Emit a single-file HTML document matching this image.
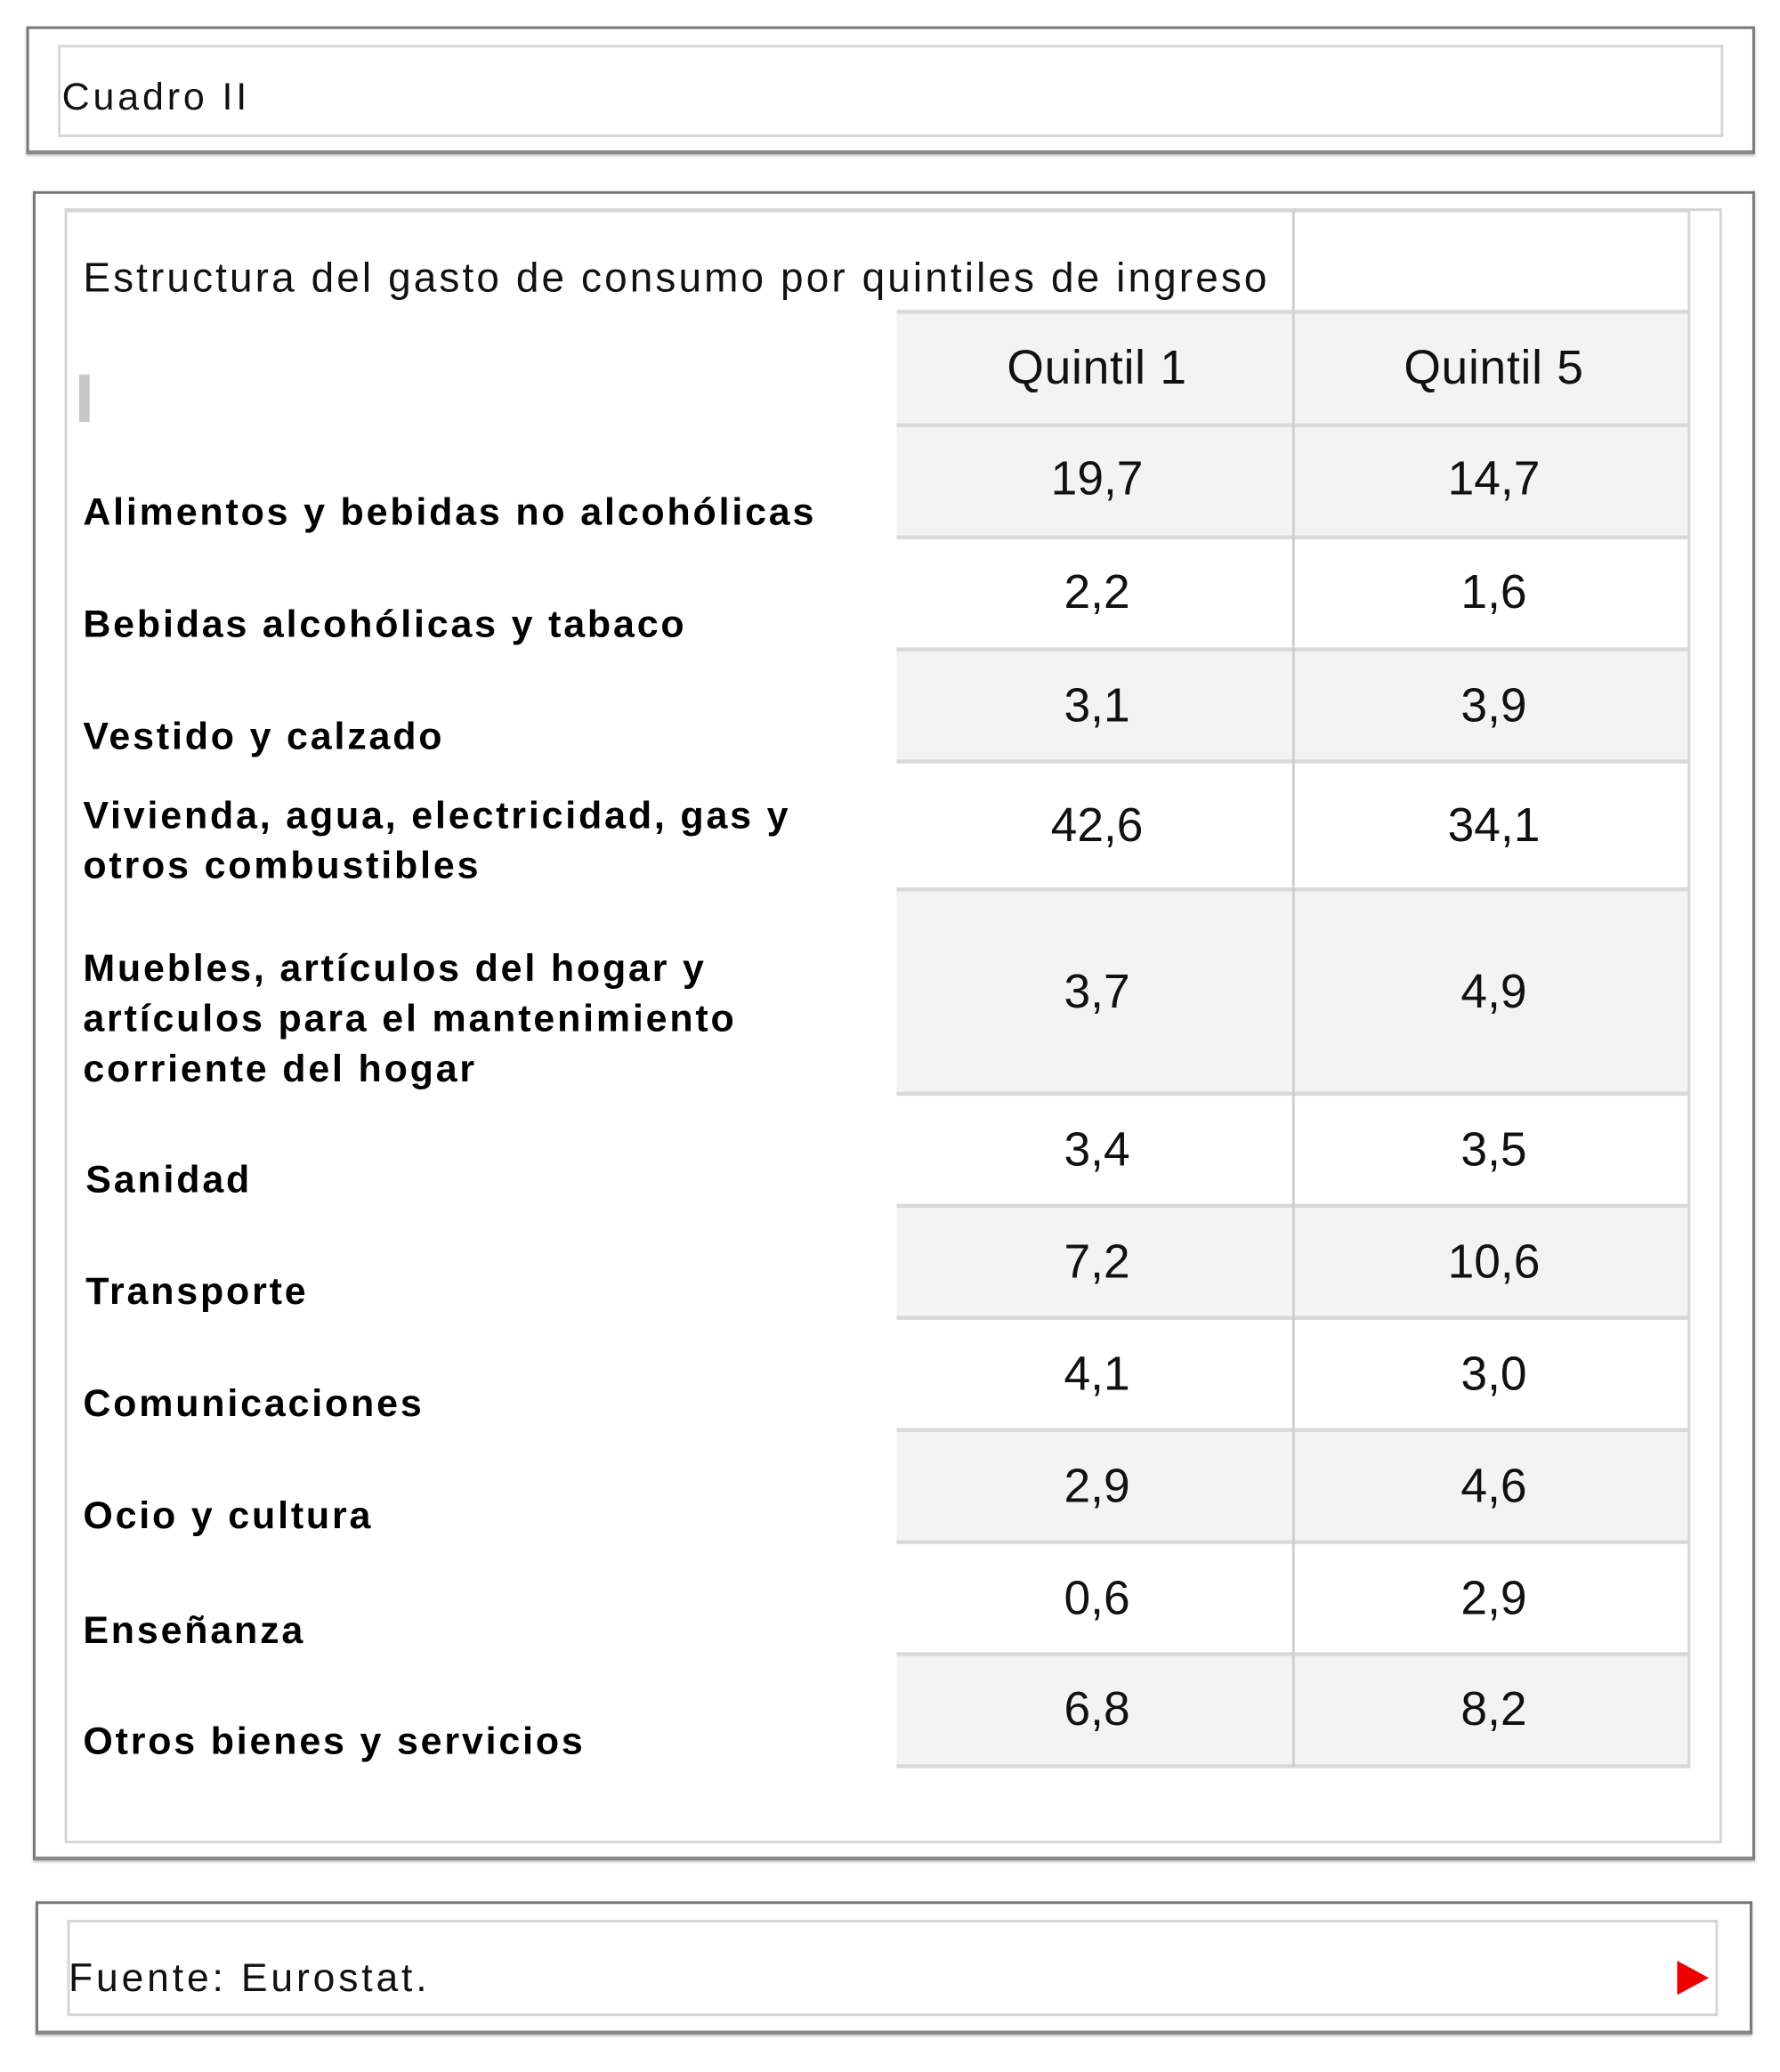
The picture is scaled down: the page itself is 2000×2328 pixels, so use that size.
<!DOCTYPE html>
<html><head><meta charset="utf-8"><style>
html,body{margin:0;padding:0;background:#fff;width:2000px;height:2328px;overflow:hidden}
#s{position:absolute;left:0;top:0;width:1350px;height:1571px;transform:scale(1.48148);transform-origin:0 0;font-family:"Liberation Sans",Arial,sans-serif}
.a{position:absolute;box-sizing:border-box}
.ob{border:2px solid #777;border-bottom:3px solid #888;box-shadow:0 1px 2px #bbb}
.ib{border:2px solid #d6d6d6}
.g{background:#f3f3f3}
.hl{position:absolute;height:3px;background:#d9d9d9;left:680px;width:602px}
.v{position:absolute;font-size:36px;color:#111;width:300px;text-align:center;letter-spacing:0px}
.q{letter-spacing:0.5px}
.l{position:absolute;left:63px;font-size:29px;font-weight:bold;color:#000;line-height:38px;letter-spacing:1.9px}
</style></head><body><div id="s">
<div class="a ob" style="left:20px;top:20px;width:1311px;height:97px"></div>
<div class="a ib" style="left:44px;top:34px;width:1263px;height:70px"></div>
<div class="a" style="left:47px;top:58px;font-size:29px;color:#111;letter-spacing:2.6px">Cuadro II</div>

<div class="a ob" style="left:25px;top:145px;width:1306px;height:1266px"></div>
<div class="a ib" style="left:49px;top:158px;width:1257px;height:1240px"></div>
<div class="a" style="left:49px;top:158px;width:1233px;height:3px;background:#d6d6d6"></div>

<div class="a g" style="left:680px;top:236px;width:602px;height:87px"></div>
<div class="a g" style="left:680px;top:322px;width:602px;height:86px"></div>
<div class="a g" style="left:680px;top:493px;width:602px;height:85px"></div>
<div class="a g" style="left:680px;top:675px;width:602px;height:155px"></div>
<div class="a g" style="left:680px;top:915px;width:602px;height:85px"></div>
<div class="a g" style="left:680px;top:1085px;width:602px;height:85px"></div>
<div class="a g" style="left:680px;top:1255px;width:602px;height:85px"></div>
<div class="hl" style="top:235px"></div><div class="hl" style="top:321px"></div><div class="hl" style="top:406px"></div>
<div class="hl" style="top:491px"></div><div class="hl" style="top:576px"></div><div class="hl" style="top:673px"></div>
<div class="hl" style="top:828px"></div><div class="hl" style="top:913px"></div><div class="hl" style="top:998px"></div>
<div class="hl" style="top:1083px"></div><div class="hl" style="top:1168px"></div><div class="hl" style="top:1253px"></div>
<div class="hl" style="top:1338px"></div>
<div class="a" style="left:980px;top:160px;width:2px;height:1180px;background:#cfcfcf"></div>
<div class="a" style="left:1280px;top:160px;width:2px;height:1180px;background:#d6d6d6"></div>
<div class="a" style="left:60px;top:284px;width:8px;height:36px;background:#c8c8c8"></div>

<div class="a" style="left:63px;top:193px;font-size:31px;color:#111;letter-spacing:2.1px;white-space:nowrap">Estructura del gasto de consumo por quintiles de ingreso</div>
<div class="v q" style="left:682px;top:258px">Quintil 1</div>
<div class="v q" style="left:983px;top:258px">Quintil 5</div>

<div class="v" style="left:682px;top:342px">19,7</div><div class="v" style="left:983px;top:342px">14,7</div>
<div class="v" style="left:682px;top:428px">2,2</div><div class="v" style="left:983px;top:428px">1,6</div>
<div class="v" style="left:682px;top:514px">3,1</div><div class="v" style="left:983px;top:514px">3,9</div>
<div class="v" style="left:682px;top:605px">42,6</div><div class="v" style="left:983px;top:605px">34,1</div>
<div class="v" style="left:682px;top:731px">3,7</div><div class="v" style="left:983px;top:731px">4,9</div>
<div class="v" style="left:682px;top:851px">3,4</div><div class="v" style="left:983px;top:851px">3,5</div>
<div class="v" style="left:682px;top:936px">7,2</div><div class="v" style="left:983px;top:936px">10,6</div>
<div class="v" style="left:682px;top:1021px">4,1</div><div class="v" style="left:983px;top:1021px">3,0</div>
<div class="v" style="left:682px;top:1106px">2,9</div><div class="v" style="left:983px;top:1106px">4,6</div>
<div class="v" style="left:682px;top:1191px">0,6</div><div class="v" style="left:983px;top:1191px">2,9</div>
<div class="v" style="left:682px;top:1275px">6,8</div><div class="v" style="left:983px;top:1275px">8,2</div>

<div class="l" style="top:370px">Alimentos y bebidas no alcohólicas</div>
<div class="l" style="top:455px">Bebidas alcohólicas y tabaco</div>
<div class="l" style="top:540px">Vestido y calzado</div>
<div class="l" style="top:600px">Vivienda, agua, electricidad, gas y<br>otros combustibles</div>
<div class="l" style="top:716px">Muebles, artículos del hogar y<br>artículos para el mantenimiento<br>corriente del hogar</div>
<div class="l" style="top:876px;left:65px">Sanidad</div>
<div class="l" style="top:961px;left:65px">Transporte</div>
<div class="l" style="top:1046px">Comunicaciones</div>
<div class="l" style="top:1131px">Ocio y cultura</div>
<div class="l" style="top:1218px">Enseñanza</div>
<div class="l" style="top:1302px">Otros bienes y servicios</div>

<div class="a ob" style="left:27px;top:1442px;width:1302px;height:101px"></div>
<div class="a ib" style="left:51px;top:1456px;width:1252px;height:73px"></div>
<div class="a" style="left:52px;top:1484px;font-size:30px;color:#111;letter-spacing:2.6px">Fuente: Eurostat.</div>
<div class="a" style="left:1272px;top:1487px;width:0;height:0;border-top:13px solid transparent;border-bottom:13px solid transparent;border-left:24px solid #e00"></div>
</div></body></html>
